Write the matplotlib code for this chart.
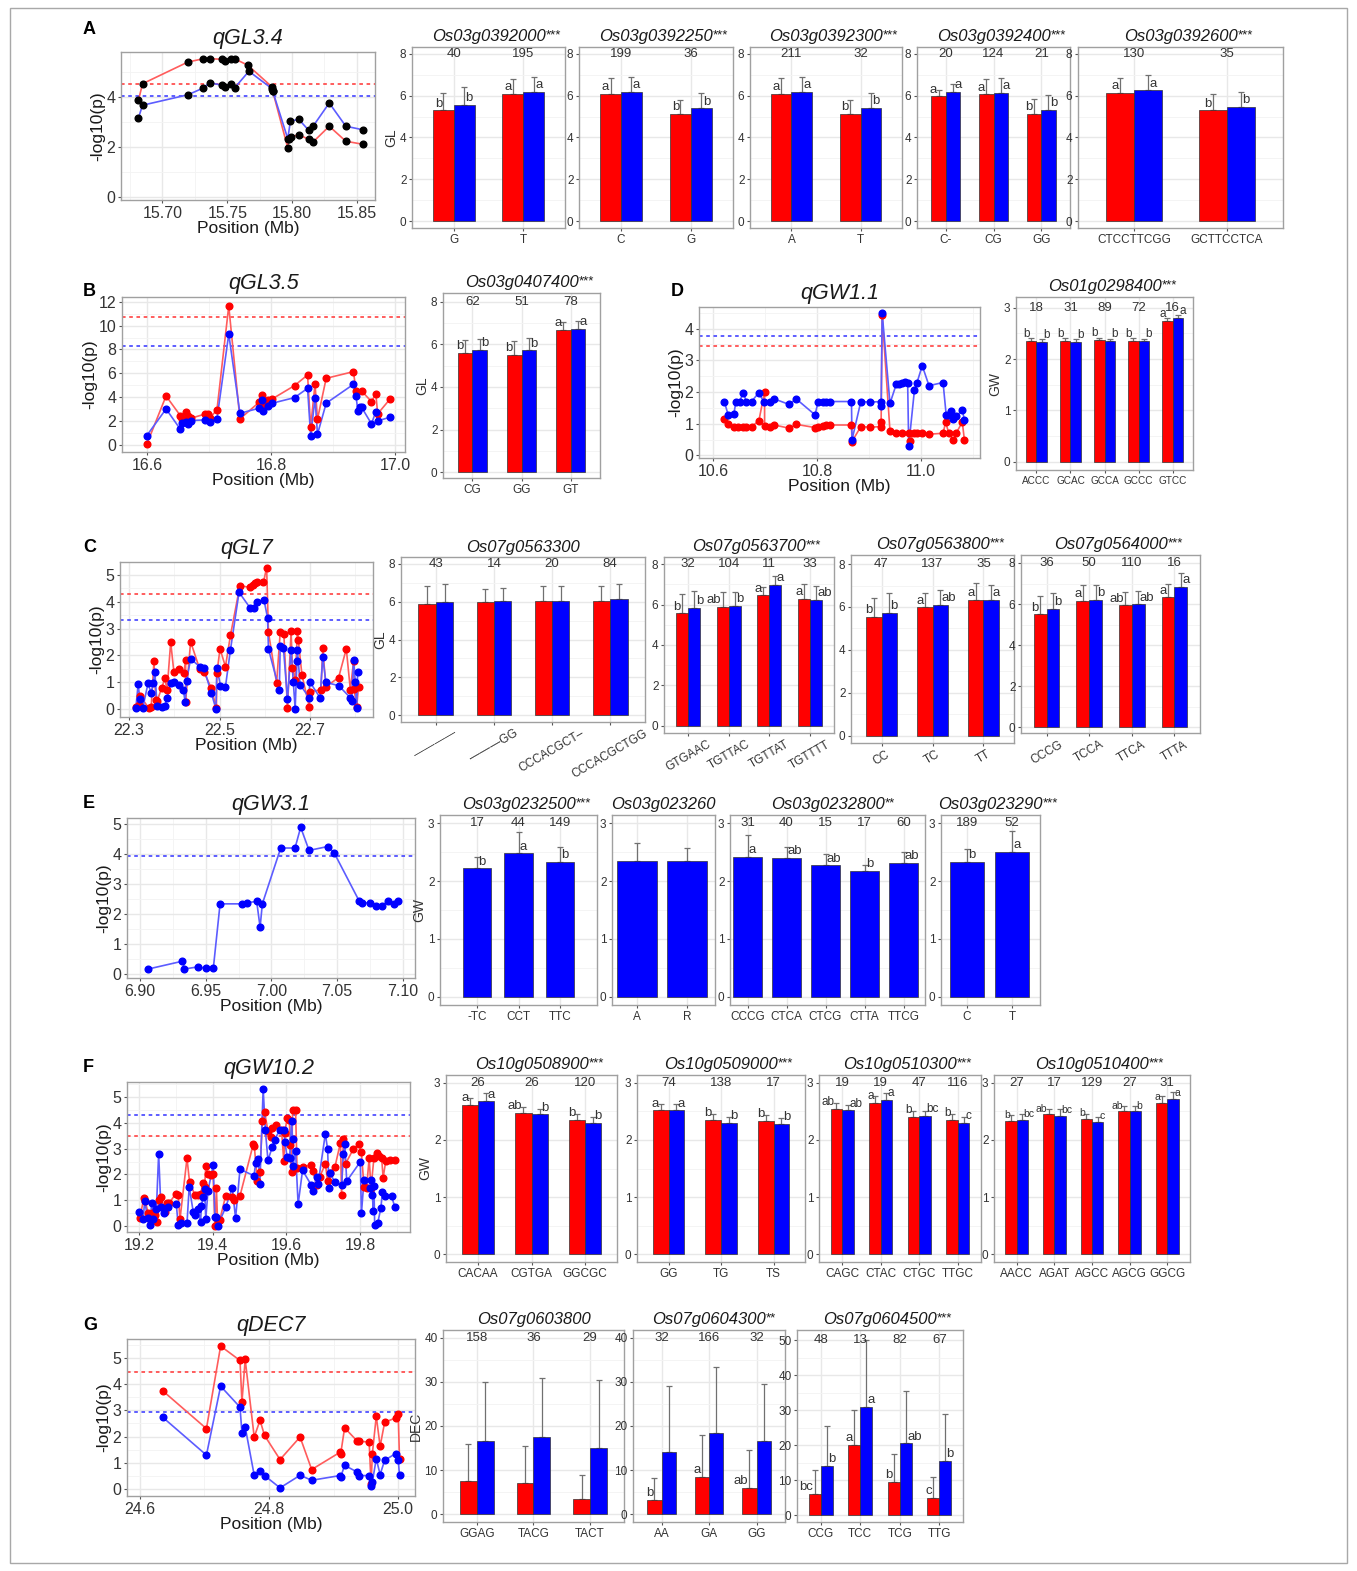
import matplotlib
matplotlib.use('Agg')
import matplotlib.pyplot as plt
from matplotlib.ticker import AutoMinorLocator
from matplotlib.patches import Rectangle
import numpy as np

plt.rcParams['font.family'] = ['Liberation Sans', 'DejaVu Sans']

W, H = 1357, 1571
RED = '#FF0000'
BLUE = '#0000FF'

# ---------------- line plots: -log10(p) along position (Mb) ----------------
a_red_x = [15.6815, 15.6846, 15.7197, 15.7315, 15.7364, 15.7462, 15.7482, 15.7526, 15.7556, 15.7659,
           15.7846, 15.7851, 15.7967, 15.7974, 15.7992, 15.8051, 15.8128, 15.8162, 15.8287, 15.8415, 15.8546]
a_red_y = [3.87, 4.53, 5.40, 5.53, 5.53, 5.51, 5.44, 5.53, 5.53, 5.27,
           4.40, 4.23, 1.96, 2.33, 2.40, 2.49, 2.31, 2.20, 2.83, 2.23, 2.11]
a_blue_x = [15.6815, 15.6846, 15.7197, 15.7315, 15.7364, 15.7462, 15.7482, 15.7526, 15.7556, 15.7667,
            15.7846, 15.7851, 15.7967, 15.7987, 15.8051, 15.8128, 15.8162, 15.8287, 15.8415, 15.8546]
a_blue_y = [3.17, 3.67, 4.09, 4.36, 4.57, 4.47, 4.40, 4.53, 4.36, 5.03,
            4.33, 4.23, 2.33, 3.03, 3.11, 2.67, 2.83, 3.76, 2.83, 2.69]

b_red_x = [16.600, 16.631, 16.654, 16.656, 16.663, 16.666, 16.671, 16.693, 16.698, 16.701, 16.713, 16.732,
           16.750, 16.781, 16.785, 16.787, 16.796, 16.802, 16.838, 16.859, 16.864, 16.871, 16.875, 16.889,
           16.933, 16.937, 16.946, 16.962, 16.969, 16.972, 16.992]
b_red_y = [0.06, 4.10, 2.45, 2.18, 2.79, 2.43, 2.23, 2.57, 2.57, 2.23, 2.93, 11.64,
           2.18, 3.57, 4.19, 3.35, 3.77, 3.85, 4.97, 5.86, 1.48, 5.10, 2.15, 5.58,
           6.14, 4.52, 4.52, 3.63, 4.27, 2.60, 3.85]
b_blue_x = [16.600, 16.631, 16.654, 16.656, 16.663, 16.666, 16.671, 16.693, 16.701, 16.713, 16.732,
            16.750, 16.781, 16.785, 16.787, 16.796, 16.802, 16.838, 16.859, 16.864, 16.871, 16.875,
            16.889, 16.933, 16.937, 16.940, 16.944, 16.946, 16.962, 16.969, 16.972, 16.992]
b_blue_y = [0.78, 3.01, 1.31, 1.81, 1.95, 1.73, 2.04, 2.09, 1.95, 2.18, 9.29,
            2.65, 3.07, 3.77, 2.87, 3.27, 3.49, 3.96, 4.74, 0.75, 3.91, 0.89,
            3.49, 5.08, 4.13, 2.85, 3.21, 3.15, 1.76, 2.79, 2.01, 2.32]

d_red_x = [10.622, 10.629, 10.640, 10.648, 10.658, 10.664, 10.674, 10.688, 10.699, 10.699, 10.709, 10.718,
           10.746, 10.760, 10.796, 10.802, 10.811, 10.818, 10.824, 10.866, 10.867, 10.884, 10.902, 10.922,
           10.923, 10.925, 10.940, 10.952, 10.964, 10.976, 10.978, 10.987, 10.992, 11.002, 11.015, 11.042,
           11.047, 11.053, 11.062, 11.067, 11.079, 11.083]
d_red_y = [1.14, 0.98, 0.89, 0.91, 0.91, 0.91, 0.91, 1.09, 2.00, 0.93, 0.91, 0.96,
           0.86, 0.98, 0.88, 0.91, 0.93, 0.96, 0.96, 0.96, 0.44, 0.91, 0.89, 0.91,
           1.07, 4.42, 0.77, 0.70, 0.70, 0.70, 0.47, 0.70, 0.70, 0.70, 0.67, 0.70,
           1.05, 0.70, 0.49, 0.70, 1.05, 0.49]
d_blue_x = [10.622, 10.629, 10.640, 10.644, 10.651, 10.658, 10.664, 10.674, 10.688, 10.697, 10.709, 10.718,
            10.746, 10.760, 10.796, 10.802, 10.811, 10.818, 10.824, 10.866, 10.867, 10.884, 10.902, 10.922,
            10.923, 10.925, 10.940, 10.952, 10.957, 10.964, 10.968, 10.974, 10.976, 10.987, 10.992, 11.002,
            11.015, 11.042, 11.048, 11.053, 11.058, 11.062, 11.067, 11.079, 11.083]
d_blue_y = [1.68, 1.28, 1.31, 1.70, 1.70, 1.98, 1.70, 1.70, 1.98, 1.70, 1.70, 1.78,
            1.61, 1.78, 1.28, 1.70, 1.70, 1.70, 1.70, 1.70, 0.49, 1.70, 1.68, 1.70,
            1.56, 4.49, 1.64, 2.24, 2.25, 2.29, 2.32, 2.27, 0.30, 2.06, 2.30, 2.83,
            2.20, 2.30, 1.28, 1.26, 1.41, 1.15, 1.23, 1.43, 1.12]

c_red_x = [22.315, 22.322, 22.324, 22.344, 22.349, 22.355, 22.359, 22.362, 22.372, 22.379, 22.384, 22.392,
           22.399, 22.411, 22.421, 22.425, 22.425, 22.436, 22.456, 22.465, 22.482, 22.493, 22.494, 22.501,
           22.513, 22.524, 22.545, 22.567, 22.573, 22.578, 22.583, 22.597, 22.604, 22.608, 22.626, 22.634,
           22.642, 22.650, 22.658, 22.661, 22.667, 22.672, 22.674, 22.682, 22.698, 22.699, 22.724, 22.728,
           22.735, 22.763, 22.780, 22.789, 22.796, 22.797, 22.803, 22.807]
c_red_y = [0.09, 0.15, 0.50, 0.02, 0.09, 1.77, 0.34, 0.30, 0.77, 1.14, 0.71, 2.49,
           1.39, 1.49, 1.33, 1.83, 0.27, 2.51, 1.49, 1.39, 0.77, 0.02, 1.33, 2.24,
           1.58, 2.74, 4.60, 4.53, 4.63, 4.69, 4.73, 4.73, 5.27, 2.86, 0.96, 2.86,
           2.79, 0.02, 2.89, 1.54, 1.08, 2.89, 2.57, 1.27, 0.09, 0.65, 0.71, 2.26,
           0.83, 1.17, 2.24, 0.71, 1.77, 0.75, 0.09, 0.83]
c_blue_x = [22.315, 22.320, 22.324, 22.330, 22.342, 22.349, 22.353, 22.357, 22.362, 22.372, 22.379, 22.384,
            22.392, 22.399, 22.411, 22.420, 22.424, 22.427, 22.436, 22.456, 22.465, 22.482, 22.492, 22.494,
            22.502, 22.513, 22.524, 22.543, 22.567, 22.575, 22.583, 22.598, 22.606, 22.608, 22.632, 22.634,
            22.641, 22.650, 22.658, 22.663, 22.667, 22.671, 22.672, 22.678, 22.698, 22.699, 22.722, 22.728,
            22.735, 22.763, 22.789, 22.792, 22.796, 22.800, 22.803, 22.805]
c_blue_y = [0.02, 0.92, 0.37, 0.02, 0.96, 0.58, 0.96, 1.37, 0.11, 0.09, 0.11, 0.40,
            0.98, 1.02, 0.90, 0.71, 0.25, 1.04, 1.87, 1.58, 1.54, 0.58, 0.00, 1.54,
            0.87, 0.83, 2.20, 4.35, 3.78, 3.78, 4.00, 4.07, 3.41, 2.24, 0.71, 2.36,
            2.29, 0.37, 2.20, 0.99, 0.00, 1.79, 2.20, 0.90, 0.42, 1.02, 0.42, 1.92,
            0.99, 0.87, 0.42, 0.30, 1.83, 0.99, 0.05, 1.36]

e_blue_x = [6.9063, 6.9322, 6.9338, 6.9439, 6.9500, 6.9558, 6.9609, 6.9774, 6.9812, 6.9888, 6.9914, 6.9931,
            7.0071, 7.0180, 7.0223, 7.0287, 7.0429, 7.0477, 7.0667, 7.0688, 7.0751, 7.0797, 7.0840, 7.0886,
            7.0934, 7.0967]
e_blue_y = [0.17, 0.43, 0.17, 0.24, 0.19, 0.21, 2.34, 2.34, 2.38, 2.42, 1.56, 2.34,
            4.20, 4.20, 4.89, 4.12, 4.25, 4.05, 2.45, 2.36, 2.38, 2.28, 2.28, 2.42,
            2.34, 2.42]

f_red_x = [19.202, 19.213, 19.217, 19.224, 19.229, 19.236, 19.243, 19.249, 19.253, 19.259, 19.270, 19.276,
           19.282, 19.300, 19.306, 19.311, 19.330, 19.337, 19.351, 19.360, 19.367, 19.374, 19.378, 19.381,
           19.387, 19.395, 19.401, 19.406, 19.410, 19.413, 19.419, 19.435, 19.453, 19.458, 19.474, 19.510,
           19.513, 19.521, 19.528, 19.535, 19.541, 19.550, 19.557, 19.562, 19.573, 19.587, 19.593, 19.596,
           19.602, 19.608, 19.611, 19.614, 19.617, 19.625, 19.629, 19.644, 19.668, 19.673, 19.682, 19.691,
           19.706, 19.712, 19.718, 19.732, 19.747, 19.750, 19.755, 19.761, 19.782, 19.797, 19.804, 19.811,
           19.818, 19.825, 19.830, 19.838, 19.847, 19.852, 19.859, 19.863, 19.870, 19.881, 19.895]
f_red_y = [0.32, 1.10, 0.98, 0.49, 0.27, 0.52, 0.43, 0.14, 1.01, 1.13, 0.55, 0.88,
           0.90, 1.26, 1.20, 0.27, 2.62, 1.71, 1.22, 1.22, 1.26, 1.65, 1.52, 2.33,
           2.00, 1.97, 2.00, 0.01, 1.46, 0.23, 0.23, 1.17, 1.13, 1.01, 1.17, 3.16,
           3.09, 1.74, 2.10, 4.06, 4.42, 3.67, 3.45, 3.78, 3.90, 3.71, 2.51, 3.62,
           4.19, 4.10, 3.13, 2.10, 4.48, 4.51, 2.26, 2.29, 2.38, 2.13, 1.58, 1.91,
           2.42, 1.74, 2.07, 2.29, 3.23, 1.20, 3.39, 2.42, 2.98, 3.16, 2.85, 1.52,
           1.46, 2.64, 1.46, 2.64, 2.84, 2.72, 2.62, 1.87, 2.51, 2.55, 2.55]
f_blue_x = [19.200, 19.211, 19.215, 19.223, 19.229, 19.234, 19.238, 19.247, 19.253, 19.259, 19.268, 19.279,
            19.301, 19.306, 19.313, 19.330, 19.336, 19.347, 19.351, 19.360, 19.367, 19.369, 19.374, 19.378,
            19.381, 19.387, 19.401, 19.406, 19.410, 19.413, 19.435, 19.453, 19.462, 19.474, 19.512, 19.517,
            19.524, 19.528, 19.537, 19.543, 19.550, 19.562, 19.568, 19.582, 19.593, 19.596, 19.602, 19.609,
            19.614, 19.617, 19.618, 19.625, 19.632, 19.644, 19.668, 19.673, 19.682, 19.686, 19.706, 19.712,
            19.716, 19.718, 19.732, 19.750, 19.755, 19.759, 19.764, 19.801, 19.804, 19.811, 19.827, 19.830,
            19.834, 19.836, 19.838, 19.840, 19.848, 19.857, 19.861, 19.868, 19.886, 19.895]
f_blue_y = [0.55, 0.27, 0.98, 0.32, 0.06, 0.88, 0.27, 0.68, 2.81, 0.75, 0.52, 0.75,
            0.84, 0.06, 0.10, 0.10, 1.52, 0.55, 0.43, 0.66, 0.14, 0.79, 1.13, 1.43,
            0.27, 1.35, 2.36, 0.34, 0.36, 0.01, 0.72, 1.48, 0.30, 2.20, 1.95, 2.46,
            2.59, 1.61, 5.32, 3.71, 2.55, 3.07, 3.35, 3.71, 3.71, 3.26, 2.68, 2.64,
            4.06, 3.36, 2.33, 2.90, 0.84, 2.16, 1.58, 1.35, 1.91, 1.61, 3.58, 2.98,
            1.48, 2.07, 1.69, 1.58, 2.81, 3.16, 1.74, 2.49, 0.49, 1.78, 1.48, 1.78,
            1.20, 0.58, 1.56, 0.06, 0.10, 0.71, 1.33, 1.17, 1.16, 0.72]

g_red_x = [24.635, 24.703, 24.725, 24.755, 24.758, 24.763, 24.777, 24.786, 24.793, 24.817, 24.848, 24.866,
           24.910, 24.911, 24.917, 24.936, 24.939, 24.955, 24.958, 24.960, 24.966, 24.972, 24.979, 24.996,
           25.000, 25.002]
g_red_y = [3.75, 2.30, 5.45, 4.90, 3.31, 4.94, 1.98, 2.62, 2.04, 1.12, 1.98, 0.74,
           1.40, 1.35, 2.33, 1.84, 1.82, 1.79, 0.17, 1.35, 2.77, 1.63, 2.54, 2.71,
           2.84, 1.15]
g_blue_x = g_red_x
g_blue_y = [2.74, 1.29, 3.92, 3.12, 2.14, 2.37, 0.52, 0.67, 0.51, 0.04, 0.52, 0.33,
            0.51, 0.46, 0.90, 0.65, 0.51, 0.51, 0.10, 0.27, 1.15, 0.55, 1.09, 1.35,
            1.12, 0.52]

# significance thresholds (red, blue)
thr_a = [4.53, 4.03]
thr_b = [10.69, 8.29]
thr_d = [3.44, 3.77]
thr_c = [4.28, 3.32]
thr_e = [None, 3.92]
thr_f = [3.49, 4.32]
thr_g = [4.45, 2.93]

# ---------------- bar charts: haplotype means ----------------
a1_cats = ['G', 'T']
a1_red, a1_red_sd, a1_blue, a1_blue_sd = [5.30, 6.08], [0.85, 0.72], [5.55, 6.18], [0.85, 0.72]
a1_let, a1_n = ['b', 'a'], [40, 195]
a2_cats = ['C', 'G']
a2_red, a2_red_sd, a2_blue, a2_blue_sd = [6.08, 5.13], [0.75, 0.68], [6.18, 5.40], [0.72, 0.72]
a2_let, a2_n = ['a', 'b'], [199, 36]
a3_cats = ['A', 'T']
a3_red, a3_red_sd, a3_blue, a3_blue_sd = [6.08, 5.13], [0.75, 0.65], [6.18, 5.43], [0.72, 0.72]
a3_let, a3_n = ['a', 'b'], [211, 32]
a4_cats = ['C-', 'CG', 'GG']
a4_red, a4_red_sd, a4_blue, a4_blue_sd = [5.97, 6.07, 5.13], [0.32, 0.75, 0.70], [6.17, 6.12, 5.33], [0.40, 0.72, 0.68]
a4_let, a4_n = ['a', 'a', 'b'], [20, 124, 21]
a5_cats = ['CTCCTTCGG', 'GCTTCCTCA']
a5_red, a5_red_sd, a5_blue, a5_blue_sd = [6.12, 5.30], [0.72, 0.77], [6.25, 5.47], [0.72, 0.70]
a5_let, a5_n = ['a', 'b'], [130, 35]

b1_cats = ['CG', 'GG', 'GT']
b1_red, b1_red_sd, b1_blue, b1_blue_sd = [5.62, 5.52, 6.70], [0.60, 0.65, 0.35], [5.75, 5.72, 6.75], [0.50, 0.60, 0.35]
b1_let, b1_n = ['b', 'b', 'a'], [62, 51, 78]

d1_cats = ['ACCC', 'GCAC', 'GCCA', 'GCCC', 'GTCC']
d1_red, d1_red_sd = [2.35, 2.35, 2.37, 2.36, 2.75], [0.07, 0.06, 0.05, 0.06, 0.06]
d1_blue, d1_blue_sd = [2.33, 2.33, 2.35, 2.35, 2.80], [0.07, 0.07, 0.05, 0.05, 0.06]
d1_let, d1_n = ['b', 'b', 'b', 'b', 'a'], [18, 31, 89, 72, 16]

c1_cats = ['\u2014\u2014\u2014\u2014', '\u2014\u2014\u2014GG', 'CCCACGCT\u2013', 'CCCACGCTGG']
c1_red, c1_red_sd = [5.88, 5.98, 6.02, 6.05], [0.93, 0.69, 0.79, 0.80]
c1_blue, c1_blue_sd = [5.98, 6.02, 6.05, 6.12], [0.96, 0.71, 0.76, 0.82]
c1_n = [43, 14, 20, 84]
c2_cats = ['GTGAAC', 'TGTTAC', 'TGTTAT', 'TGTTTT']
c2_red, c2_red_sd = [5.57, 5.90, 6.45, 6.28], [0.94, 0.74, 0.44, 0.74]
c2_blue, c2_blue_sd = [5.82, 5.95, 6.98, 6.23], [0.86, 0.66, 0.41, 0.71]
c2_red_let, c2_blue_let, c2_n = ['b', 'ab', 'a', 'a'], ['b', 'b', 'a', 'ab'], [32, 104, 11, 33]
c3_cats = ['CC', 'TC', 'TT']
c3_red, c3_red_sd = [5.53, 5.98, 6.33], [0.91, 0.68, 0.77]
c3_blue, c3_blue_sd = [5.74, 6.10, 6.33], [0.91, 0.69, 0.70]
c3_red_let, c3_blue_let, c3_n = ['b', 'a', 'a'], ['b', 'ab', 'a'], [47, 137, 35]
c4_cats = ['CCCG', 'TCCA', 'TTCA', 'TTTA']
c4_red, c4_red_sd = [5.50, 6.16, 5.93, 6.32], [0.87, 0.78, 0.65, 0.65]
c4_blue, c4_blue_sd = [5.76, 6.19, 5.99, 6.84], [0.80, 0.72, 0.65, 0.67]
c4_red_let, c4_blue_let, c4_n = ['b', 'a', 'ab', 'a'], ['b', 'b', 'ab', 'a'], [36, 50, 110, 16]

e1_cats = ['-TC', 'CCT', 'TTC']
e1_blue, e1_blue_sd, e1_let, e1_n = [2.22, 2.48, 2.33], [0.20, 0.37, 0.25], ['b', 'a', 'b'], [17, 44, 149]
e2_cats = ['A', 'R']
e2_blue, e2_blue_sd = [2.35, 2.35], [0.30, 0.22]
e3_cats = ['CCCG', 'CTCA', 'CTCG', 'CTTA', 'TTCG']
e3_blue, e3_blue_sd = [2.42, 2.40, 2.27, 2.18, 2.32], [0.37, 0.18, 0.20, 0.10, 0.18]
e3_let, e3_n = ['a', 'ab', 'ab', 'b', 'ab'], [31, 40, 15, 17, 60]
e4_cats = ['C', 'T']
e4_blue, e4_blue_sd, e4_let, e4_n = [2.33, 2.50], [0.22, 0.37], ['b', 'a'], [189, 52]

f1_cats = ['CACAA', 'CGTGA', 'GGCGC']
f1_red, f1_red_sd, f1_blue, f1_blue_sd = [2.62, 2.48, 2.35], [0.12, 0.10, 0.10], [2.68, 2.45, 2.30], [0.15, 0.10, 0.10]
f1_red_let, f1_blue_let, f1_n = ['a', 'ab', 'b'], ['a', 'b', 'b'], [26, 26, 120]
f2_cats = ['GG', 'TG', 'TS']
f2_red, f2_red_sd, f2_blue, f2_blue_sd = [2.52, 2.35, 2.33], [0.12, 0.10, 0.10], [2.52, 2.30, 2.28], [0.12, 0.10, 0.10]
f2_red_let, f2_blue_let, f2_n = ['a', 'b', 'b'], ['a', 'b', 'b'], [74, 138, 17]
f3_cats = ['CAGC', 'CTAC', 'CTGC', 'TTGC']
f3_red, f3_red_sd = [2.55, 2.65, 2.40, 2.35], [0.10, 0.12, 0.10, 0.10]
f3_blue, f3_blue_sd = [2.52, 2.70, 2.42, 2.30], [0.10, 0.12, 0.08, 0.10]
f3_red_let, f3_blue_let, f3_n = ['ab', 'a', 'b', 'b'], ['ab', 'a', 'bc', 'c'], [19, 19, 47, 116]
f4_cats = ['AACC', 'AGAT', 'AGCC', 'AGCG', 'GGCG']
f4_red, f4_red_sd = [2.33, 2.45, 2.37, 2.50, 2.65], [0.10, 0.10, 0.08, 0.10, 0.12]
f4_blue, f4_blue_sd = [2.35, 2.42, 2.32, 2.50, 2.72], [0.10, 0.12, 0.08, 0.10, 0.12]
f4_red_let, f4_blue_let, f4_n = ['b', 'ab', 'b', 'ab', 'a'], ['bc', 'bc', 'c', 'b', 'a'], [27, 17, 129, 27, 31]

g1_cats = ['GGAG', 'TACG', 'TACT']
g1_red, g1_red_sd, g1_blue, g1_blue_sd = [7.5, 7.0, 3.5], [8.5, 8.5, 5.3], [16.5, 17.5, 15.0], [13.5, 13.5, 15.5]
g1_n = [158, 36, 29]
g2_cats = ['AA', 'GA', 'GG']
g2_red, g2_red_sd, g2_blue, g2_blue_sd = [3.2, 8.5, 6.0], [5.0, 9.5, 8.5], [14.0, 18.3, 16.5], [15.0, 15.0, 13.0]
g2_red_let, g2_n = ['b', 'a', 'ab'], [32, 166, 32]
g3_cats = ['CCG', 'TCC', 'TCG', 'TTG']
g3_red, g3_red_sd = [6.0, 20.0, 9.5, 5.0], [7.0, 10.0, 8.0, 6.0]
g3_blue, g3_blue_sd = [14.0, 31.0, 20.5, 15.5], [11.5, 19.0, 15.0, 13.5]
g3_red_let, g3_blue_let, g3_n = ['bc', 'a', 'b', 'c'], ['b', 'a', 'ab', 'b'], [48, 13, 82, 67]

fig = plt.figure(figsize=(W / 100, H / 100), dpi=100)
fig.patches.append(Rectangle((10 / W, 1 - 1563 / H), 1337 / W, 1555 / H, transform=fig.transFigure,
                             fill=False, edgecolor='#A8A8A8', lw=1))


def box_axes(l, t, r, b):
    return fig.add_axes([l / W, 1 - b / H, (r - l) / W, (b - t) / H])


def bw_style(ax, size):
    for s in ax.spines.values():
        s.set_color('#A0A0A0')
        s.set_linewidth(1)
    ax.grid(True, which='major', color='#E8E8E8', lw=1)
    ax.grid(True, which='minor', color='#F3F3F3', lw=0.6)
    ax.set_axisbelow(True)
    ax.tick_params(which='major', length=2.5, width=0.8, color='#555555', labelsize=size,
                   labelcolor='#333333', pad=1.5)
    ax.tick_params(which='minor', length=0)


def line_panel(box, title, xlim, ylim, xticks, xlabels, yticks, red_x, red_y, blue_x, blue_y, thr, dots=None):
    ax = box_axes(*box)
    bw_style(ax, 11.5)
    ax.set_xlim(*xlim)
    ax.set_ylim(*ylim)
    ax.set_xticks(xticks)
    ax.set_xticklabels(xlabels)
    ax.set_yticks(yticks)
    ax.xaxis.set_minor_locator(AutoMinorLocator(2))
    ax.yaxis.set_minor_locator(AutoMinorLocator(2))
    if red_x is not None:
        ax.plot(red_x, red_y, color='#FF5C5C', lw=1.2, zorder=3)
        ax.plot(red_x, red_y, 'o', color=dots or RED, ms=4.8, zorder=4)
    ax.plot(blue_x, blue_y, color='#5C5CFF', lw=1.2, zorder=3)
    ax.plot(blue_x, blue_y, 'o', color=dots or BLUE, ms=4.8, zorder=4)
    if thr[0] is not None:
        ax.axhline(thr[0], color='#FF5050', lw=1.3, ls=(0, (2, 2)), zorder=2)
    ax.axhline(thr[1], color='#5050FF', lw=1.3, ls=(0, (2, 2)), zorder=2)
    ax.set_title(title, fontsize=15.5, style='italic', pad=6, color='#1A1A1A')
    ax.set_xlabel('Position (Mb)', fontsize=12.5, labelpad=0.5, color='#1A1A1A')
    ax.set_ylabel('-log10(p)', fontsize=12.5, labelpad=1, color='#1A1A1A')
    return ax


def facet_title(ax, name, stars):
    t = ax.text(0.5, 1.015, name, transform=ax.transAxes, ha='center', va='bottom',
                fontsize=12, style='italic', color='#1A1A1A')
    if stars:
        ax.annotate(stars, xy=(1.0, 1.0), xycoords=t, ha='left', va='top', fontsize=9.5, color='#1A1A1A')


def bar_facet(box, name, stars, cats, ylim, yticks, count_y, blue, blue_sd, red=None, red_sd=None,
              red_let=None, blue_let=None, counts=None, ylabel=None, xlim=None, rot=0, width=0.3,
              tsize=8.5, lsize=9.5):
    ax = box_axes(*box)
    bw_style(ax, tsize)
    ax.tick_params(axis='y', labelsize=8.5)
    n = len(cats)
    x = np.arange(1, n + 1)
    ax.set_xlim(xlim if xlim else (0.4, n + 0.6))
    ax.set_ylim(*ylim)
    ax.set_yticks(yticks)
    ax.yaxis.set_minor_locator(AutoMinorLocator(2))
    ax.set_xticks(x)
    ax.set_xticklabels(cats, rotation=rot)
    if red is not None:
        xr, xb = x - width / 2, x + width / 2
        ax.bar(xr, red, width, color=RED, edgecolor='#333333', lw=0.5, zorder=3)
        ax.errorbar(xr, red, yerr=[np.zeros(n), red_sd], fmt='none', ecolor='#707070',
                    elinewidth=0.9, capsize=2, capthick=0.9, zorder=2)
        if red_let:
            for xi, yi, s in zip(xr, red, red_let):
                ax.annotate(s, (xi, yi), xytext=(-1.0, 0.5), textcoords='offset points',
                            ha='right', va='bottom', fontsize=lsize, color='#333333')
    else:
        xb = x
    ax.bar(xb, blue, width, color=BLUE, edgecolor='#333333', lw=0.5, zorder=3)
    ax.errorbar(xb, blue, yerr=[np.zeros(n), blue_sd], fmt='none', ecolor='#707070',
                elinewidth=0.9, capsize=2, capthick=0.9, zorder=2)
    if blue_let:
        for xi, yi, s in zip(xb, blue, blue_let):
            ax.annotate(s, (xi, yi), xytext=(1.0, 0.5), textcoords='offset points',
                        ha='left', va='bottom', fontsize=lsize, color='#333333')
    if counts:
        for xi, c in zip(x, counts):
            ax.text(xi, count_y, str(c), ha='center', va='center', fontsize=9.5, color='#333333')
    if ylabel:
        ax.set_ylabel(ylabel, fontsize=10, labelpad=1, color='#333333')
    facet_title(ax, name, stars)
    return ax


# ---- panel A ----
line_panel((121, 52, 375, 200), 'qGL3.4', (15.668, 15.864), (-0.12, 5.8),
           [15.70, 15.75, 15.80, 15.85], ['15.70', '15.75', '15.80', '15.85'], [0, 2, 4],
           a_red_x, a_red_y, a_blue_x, a_blue_y, thr_a, dots='black')
gl_lim, gl_ticks = (-0.33, 8.33), [0, 2, 4, 6, 8]
bar_facet((412, 47, 565, 228), 'Os03g0392000', '***', a1_cats, gl_lim, gl_ticks, 8, a1_blue, a1_blue_sd,
          a1_red, a1_red_sd, a1_let, a1_let, a1_n, ylabel='GL')
bar_facet((579, 47, 733, 228), 'Os03g0392250', '***', a2_cats, gl_lim, gl_ticks, 8, a2_blue, a2_blue_sd,
          a2_red, a2_red_sd, a2_let, a2_let, a2_n)
bar_facet((750, 47, 902, 228), 'Os03g0392300', '***', a3_cats, gl_lim, gl_ticks, 8, a3_blue, a3_blue_sd,
          a3_red, a3_red_sd, a3_let, a3_let, a3_n)
bar_facet((917, 47, 1070, 228), 'Os03g0392400', '***', a4_cats, gl_lim, gl_ticks, 8, a4_blue, a4_blue_sd,
          a4_red, a4_red_sd, a4_let, a4_let, a4_n)
bar_facet((1078, 47, 1283, 228), 'Os03g0392600', '***', a5_cats, gl_lim, gl_ticks, 8, a5_blue, a5_blue_sd,
          a5_red, a5_red_sd, a5_let, a5_let, a5_n)

# ---- panel B ----
line_panel((122, 297, 405, 452), 'qGL3.5', (16.56, 17.016), (-0.6, 12.4),
           [16.6, 16.8, 17.0], ['16.6', '16.8', '17.0'], [0, 2, 4, 6, 8, 10, 12],
           b_red_x, b_red_y, b_blue_x, b_blue_y, thr_b)
bar_facet((443, 293, 600, 478), 'Os03g0407400', '***', b1_cats, (-0.28, 8.42), gl_ticks, 8, b1_blue, b1_blue_sd,
          b1_red, b1_red_sd, b1_let, b1_let, b1_n, ylabel='GL')

# ---- panel D ----
line_panel((699, 307, 980, 458), 'qGW1.1', (10.573, 11.113), (-0.08, 4.68),
           [10.6, 10.8, 11.0], ['10.6', '10.8', '11.0'], [0, 1, 2, 3, 4],
           d_red_x, d_red_y, d_blue_x, d_blue_y, thr_d)
bar_facet((1016, 297, 1193, 470), 'Os01g0298400', '***', d1_cats, (-0.16, 3.21), [0, 1, 2, 3], 3,
          d1_blue, d1_blue_sd, d1_red, d1_red_sd, d1_let, d1_let, d1_n, ylabel='GW', tsize=7.2, lsize=8.5)

# ---- panel C ----
line_panel((120, 562, 373, 717), 'qGL7', (22.28, 22.839), (-0.3, 5.48),
           [22.3, 22.5, 22.7], ['22.3', '22.5', '22.7'], [0, 1, 2, 3, 4, 5],
           c_red_x, c_red_y, c_blue_x, c_blue_y, thr_c)
bar_facet((401, 557, 645, 722), 'Os07g0563300', '', c1_cats, (-0.37, 8.37), gl_ticks, 8, c1_blue, c1_blue_sd,
          c1_red, c1_red_sd, None, None, c1_n, ylabel='GL', rot=30)
bar_facet((664, 557, 834, 733), 'Os07g0563700', '***', c2_cats, (-0.35, 8.35), gl_ticks, 8, c2_blue, c2_blue_sd,
          c2_red, c2_red_sd, c2_red_let, c2_blue_let, c2_n, rot=30)
bar_facet((851, 555, 1014, 743), 'Os07g0563800', '***', c3_cats, (-0.33, 8.42), gl_ticks, 8, c3_blue, c3_blue_sd,
          c3_red, c3_red_sd, c3_red_let, c3_blue_let, c3_n, rot=30)
bar_facet((1021, 555, 1200, 733), 'Os07g0564000', '***', c4_cats, (-0.29, 8.39), gl_ticks, 8, c4_blue, c4_blue_sd,
          c4_red, c4_red_sd, c4_red_let, c4_blue_let, c4_n, rot=30)

# ---- panel E ----
line_panel((127, 818, 415, 978), 'qGW3.1', (6.890, 7.1094), (-0.13, 5.2),
           [6.90, 6.95, 7.00, 7.05, 7.10], ['6.90', '6.95', '7.00', '7.05', '7.10'], [0, 1, 2, 3, 4, 5],
           None, None, e_blue_x, e_blue_y, thr_e)
gw_lim, gw_ticks = (-0.14, 3.14), [0, 1, 2, 3]
bar_facet((440, 815, 597, 1005), 'Os03g0232500', '***', e1_cats, gw_lim, gw_ticks, 3, e1_blue, e1_blue_sd,
          blue_let=e1_let, counts=e1_n, ylabel='GW', xlim=(0.1, 3.9), width=0.68)
bar_facet((612, 815, 715, 1005), 'Os03g023260', '', e2_cats, gw_lim, gw_ticks, 3, e2_blue, e2_blue_sd,
          xlim=(0.5, 2.55), width=0.8)
bar_facet((730, 815, 925, 1005), 'Os03g0232800', '**', e3_cats, gw_lim, gw_ticks, 3, e3_blue, e3_blue_sd,
          blue_let=e3_let, counts=e3_n, xlim=(0.55, 5.55), width=0.75)
bar_facet((941, 815, 1040, 1005), 'Os03g023290', '***', e4_cats, gw_lim, gw_ticks, 3, e4_blue, e4_blue_sd,
          blue_let=e4_let, counts=e4_n, xlim=(0.42, 2.62), width=0.75)

# ---- panel F ----
line_panel((127, 1082, 410, 1232), 'qGW10.2', (19.167, 19.936), (-0.23, 5.58),
           [19.2, 19.4, 19.6, 19.8], ['19.2', '19.4', '19.6', '19.8'], [0, 1, 2, 3, 4, 5],
           f_red_x, f_red_y, f_blue_x, f_blue_y, thr_f)
bar_facet((446, 1075, 617, 1262), 'Os10g0508900', '***', f1_cats, gw_lim, gw_ticks, 3, f1_blue, f1_blue_sd,
          f1_red, f1_red_sd, f1_red_let, f1_blue_let, f1_n, ylabel='GW')
bar_facet((637, 1075, 805, 1262), 'Os10g0509000', '***', f2_cats, gw_lim, gw_ticks, 3, f2_blue, f2_blue_sd,
          f2_red, f2_red_sd, f2_red_let, f2_blue_let, f2_n)
bar_facet((819, 1075, 981, 1262), 'Os10g0510300', '***', f3_cats, gw_lim, gw_ticks, 3, f3_blue, f3_blue_sd,
          f3_red, f3_red_sd, f3_red_let, f3_blue_let, f3_n, lsize=8.5)
bar_facet((994, 1075, 1190, 1262), 'Os10g0510400', '***', f4_cats, gw_lim, gw_ticks, 3, f4_blue, f4_blue_sd,
          f4_red, f4_red_sd, f4_red_let, f4_blue_let, f4_n, lsize=7.5)

# ---- panel G ----
line_panel((127, 1339, 415, 1496), 'qDEC7', (24.580, 25.026), (-0.27, 5.72),
           [24.6, 24.8, 25.0], ['24.6', '24.8', '25.0'], [0, 1, 2, 3, 4, 5],
           g_red_x, g_red_y, g_blue_x, g_blue_y, thr_g)
bar_facet((443, 1330, 624, 1522), 'Os07g0603800', '', g1_cats, (-1.8, 41.8), [0, 10, 20, 30, 40], 40,
          g1_blue, g1_blue_sd, g1_red, g1_red_sd, None, None, g1_n, ylabel='DEC')
bar_facet((633, 1330, 785, 1522), 'Os07g0604300', '**', g2_cats, (-1.8, 41.8), [0, 10, 20, 30, 40], 40,
          g2_blue, g2_blue_sd, g2_red, g2_red_sd, g2_red_let, None, g2_n)
bar_facet((797, 1330, 963, 1522), 'Os07g0604500', '***', g3_cats, (-2.0, 52.9), [0, 10, 20, 30, 40, 50], 50,
          g3_blue, g3_blue_sd, g3_red, g3_red_sd, g3_red_let, g3_blue_let, g3_n)

# panel letters
for lab, px, py in [('A', 83, 30), ('B', 83, 292), ('D', 671, 292), ('C', 83, 548),
                    ('E', 83, 803), ('F', 83, 1067), ('G', 83, 1326)]:
    fig.text(px / W, 1 - py / H, lab, fontsize=13, fontweight='bold', ha='left', va='center')

fig.savefig('out.png', dpi=100)
